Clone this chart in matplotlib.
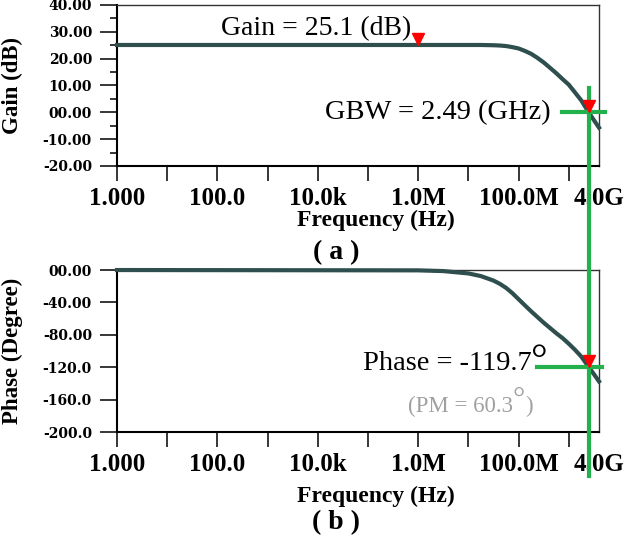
import matplotlib
matplotlib.use("Agg")
import matplotlib.pyplot as plt
from matplotlib.lines import Line2D
from matplotlib.transforms import offset_copy

# frequency response
freq_hz = [1, 1e6, 3.16e6, 1e7, 1.78e7, 3.16e7, 4.22e7, 5.62e7, 7.5e7, 1e8,
           1.33e8, 1.78e8, 2.37e8, 3.16e8, 4.22e8, 5.62e8, 7.5e8, 1e9,
           1.33e9, 1.78e9, 2.49e9, 3.16e9, 4e9]
gain_db = [25.1, 25.1, 25.1, 25.1, 25.1, 25.0, 24.9, 24.7, 24.3, 23.8,
           22.9, 21.8, 20.3, 18.6, 16.6, 14.6, 12.4, 10.3,
           7.4, 4.4, 0.0, -2.9, -5.7]
phase_deg = [0.0, -0.4, -1.3, -4.2, -7.5, -13.0, -17.0, -22.0, -28.5, -36.0,
             -43.5, -51.0, -58.0, -65.0, -71.5, -78.0, -84.0, -91.0,
             -98.5, -107.0, -119.7, -128.5, -137.5]

dc_gain = 25.1
gain_mark_f = 1e6
gbw_hz = 2.49e9
phase_at_gbw = -119.7

x_ticks = [1, 10, 100, 1e3, 1e4, 1e5, 1e6, 1e7, 1e8, 1e9, 4e9]
x_ticklabels = ["1.000", "", "100.0", "", "10.0k", "", "1.0M", "", "100.0M", "", "4.0G"]

gain_ticks = [40, 30, 20, 10, 0, -10, -20]
gain_ticklabels = ["40.00", "30.00", "20.00", "10.00", "00.00", "-10.00", "-20.00"]
phase_ticks = [0, -40, -80, -120, -160, -200]
phase_ticklabels = ["00.00", "-40.00", "-80.00", "-120.0", "-160.0", "-200.0"]

CURVE = "#2f4f4f"
GREEN = "#22b14c"
RED = "#ff0000"
GREY = "#a0a0a0"
SERIF = "Liberation Serif"

fig = plt.figure(figsize=(6.32, 5.43), dpi=100)
ax1 = fig.add_axes([0.1851, 0.6943, 0.7627, 0.2965])
ax2 = fig.add_axes([0.1851, 0.2044, 0.7627, 0.2983])


def style_axis(ax, yticks, ylabels, ylim):
    ax.set_xscale("log")
    ax.set_xlim(1, 4e9)
    ax.set_ylim(*ylim)
    ax.set_xticks(x_ticks)
    ax.set_xticklabels(x_ticklabels, fontfamily=SERIF, fontweight="bold", fontsize=18)
    ax.xaxis.set_minor_locator(plt.NullLocator())
    ax.get_xaxis().get_major_ticks()[-1].tick1line.set_visible(False)
    ax.set_yticks(yticks)
    ax.set_yticklabels(ylabels, fontfamily="DejaVu Serif", fontweight="bold", fontsize=10)
    ax.tick_params(axis="x", direction="out", length=11, width=1.1, pad=4)
    ax.tick_params(axis="y", direction="out", length=12, width=1.1, pad=6)
    for side in ["left", "bottom"]:
        ax.spines[side].set_linewidth(1.5)
    for side in ["top", "right"]:
        ax.spines[side].set_linewidth(1.0)
        ax.spines[side].set_color("#333333")


style_axis(ax1, gain_ticks, gain_ticklabels, (-20, 40))
style_axis(ax2, phase_ticks, phase_ticklabels, (-200, 0))
ax1.set_yticks([35, 25, 15, 5, -5, -15], minor=True)
ax1.tick_params(axis="y", which="minor", direction="out", length=5, width=1.1)

ax1.plot(freq_hz, gain_db, color=CURVE, lw=3, clip_on=False, zorder=3)
ax2.plot(freq_hz, phase_deg, color=CURVE, lw=3, clip_on=False, zorder=3)

# green cursor lines
ax1.plot([7.4e8, 5.3e9], [0, 0], color=GREEN, lw=3, clip_on=False, zorder=4)
ax2.plot([2.35e8, 4.5e9], [phase_at_gbw, phase_at_gbw], color=GREEN, lw=3,
         clip_on=False, zorder=4)

# vertical cursor running through both panels
to_fig = fig.transFigure.inverted()
top = to_fig.transform(ax1.transData.transform((gbw_hz, 9.0)))
bot = to_fig.transform(ax2.transData.transform((gbw_hz, -254)))
fig.add_artist(Line2D([top[0], bot[0]], [top[1], bot[1]], color=GREEN, lw=3,
                      transform=fig.transFigure, zorder=2))

# red markers, tip sitting on the curve
ms = 9
for ax, fx, fy in [(ax1, gain_mark_f, dc_gain), (ax1, gbw_hz, 0.0), (ax2, gbw_hz, phase_at_gbw)]:
    tr = offset_copy(ax.transData, fig=fig, y=ms / 2, units="points")
    mk = Line2D([fx], [fy], marker="v", markersize=ms, color=RED,
                markeredgecolor=RED, linestyle="none", transform=tr, zorder=3)
    fig.add_artist(mk)

# annotations
ax1.text(0.413, 0.851, "Gain = 25.1 (dB)", transform=ax1.transAxes, ha="center",
         va="center", fontfamily=SERIF, fontsize=20)
ax1.text(0.665, 0.329, "GBW = 2.49 (GHz)", transform=ax1.transAxes, ha="center",
         va="center", fontfamily=SERIF, fontsize=20.5)

ax2.text(0.860, 0.383, "Phase = -119.7", transform=ax2.transAxes, ha="right",
         va="baseline", fontfamily=SERIF, fontsize=20.5)
ax2.text(0.876, 0.370, "°", transform=ax2.transAxes, ha="center",
         va="baseline", fontfamily=SERIF, fontsize=30)

ax2.text(0.822, 0.1235, "(PM = 60.3", transform=ax2.transAxes, ha="right",
         va="baseline", fontfamily=SERIF, fontsize=16.5, color=GREY)
ax2.text(0.834, 0.152, "°", transform=ax2.transAxes, ha="center",
         va="baseline", fontfamily=SERIF, fontsize=22, color=GREY)
ax2.text(0.846, 0.1235, ")", transform=ax2.transAxes, ha="left",
         va="baseline", fontfamily=SERIF, fontsize=16.5, color=GREY)

# axis labels
for ax, ylab, xl_y, sub, sub_y in [(ax1, "Gain (dB)", -0.335, "( a )", -0.54),
                                   (ax2, "Phase (Degree)", -0.395, "( b )", -0.562)]:
    ax.text(0.538, xl_y, "Frequency (Hz)", transform=ax.transAxes, ha="center",
            va="center", fontfamily=SERIF, fontweight="bold", fontsize=17)
    ax.text(0.455, sub_y, sub, transform=ax.transAxes, ha="center", va="center",
            fontfamily=SERIF, fontweight="bold", fontsize=20)
    ax.text(-0.217, 0.5, ylab, transform=ax.transAxes, ha="center", va="center",
            rotation=90, fontfamily=SERIF, fontweight="bold", fontsize=16.5)

fig.savefig("out.png", dpi=100)
